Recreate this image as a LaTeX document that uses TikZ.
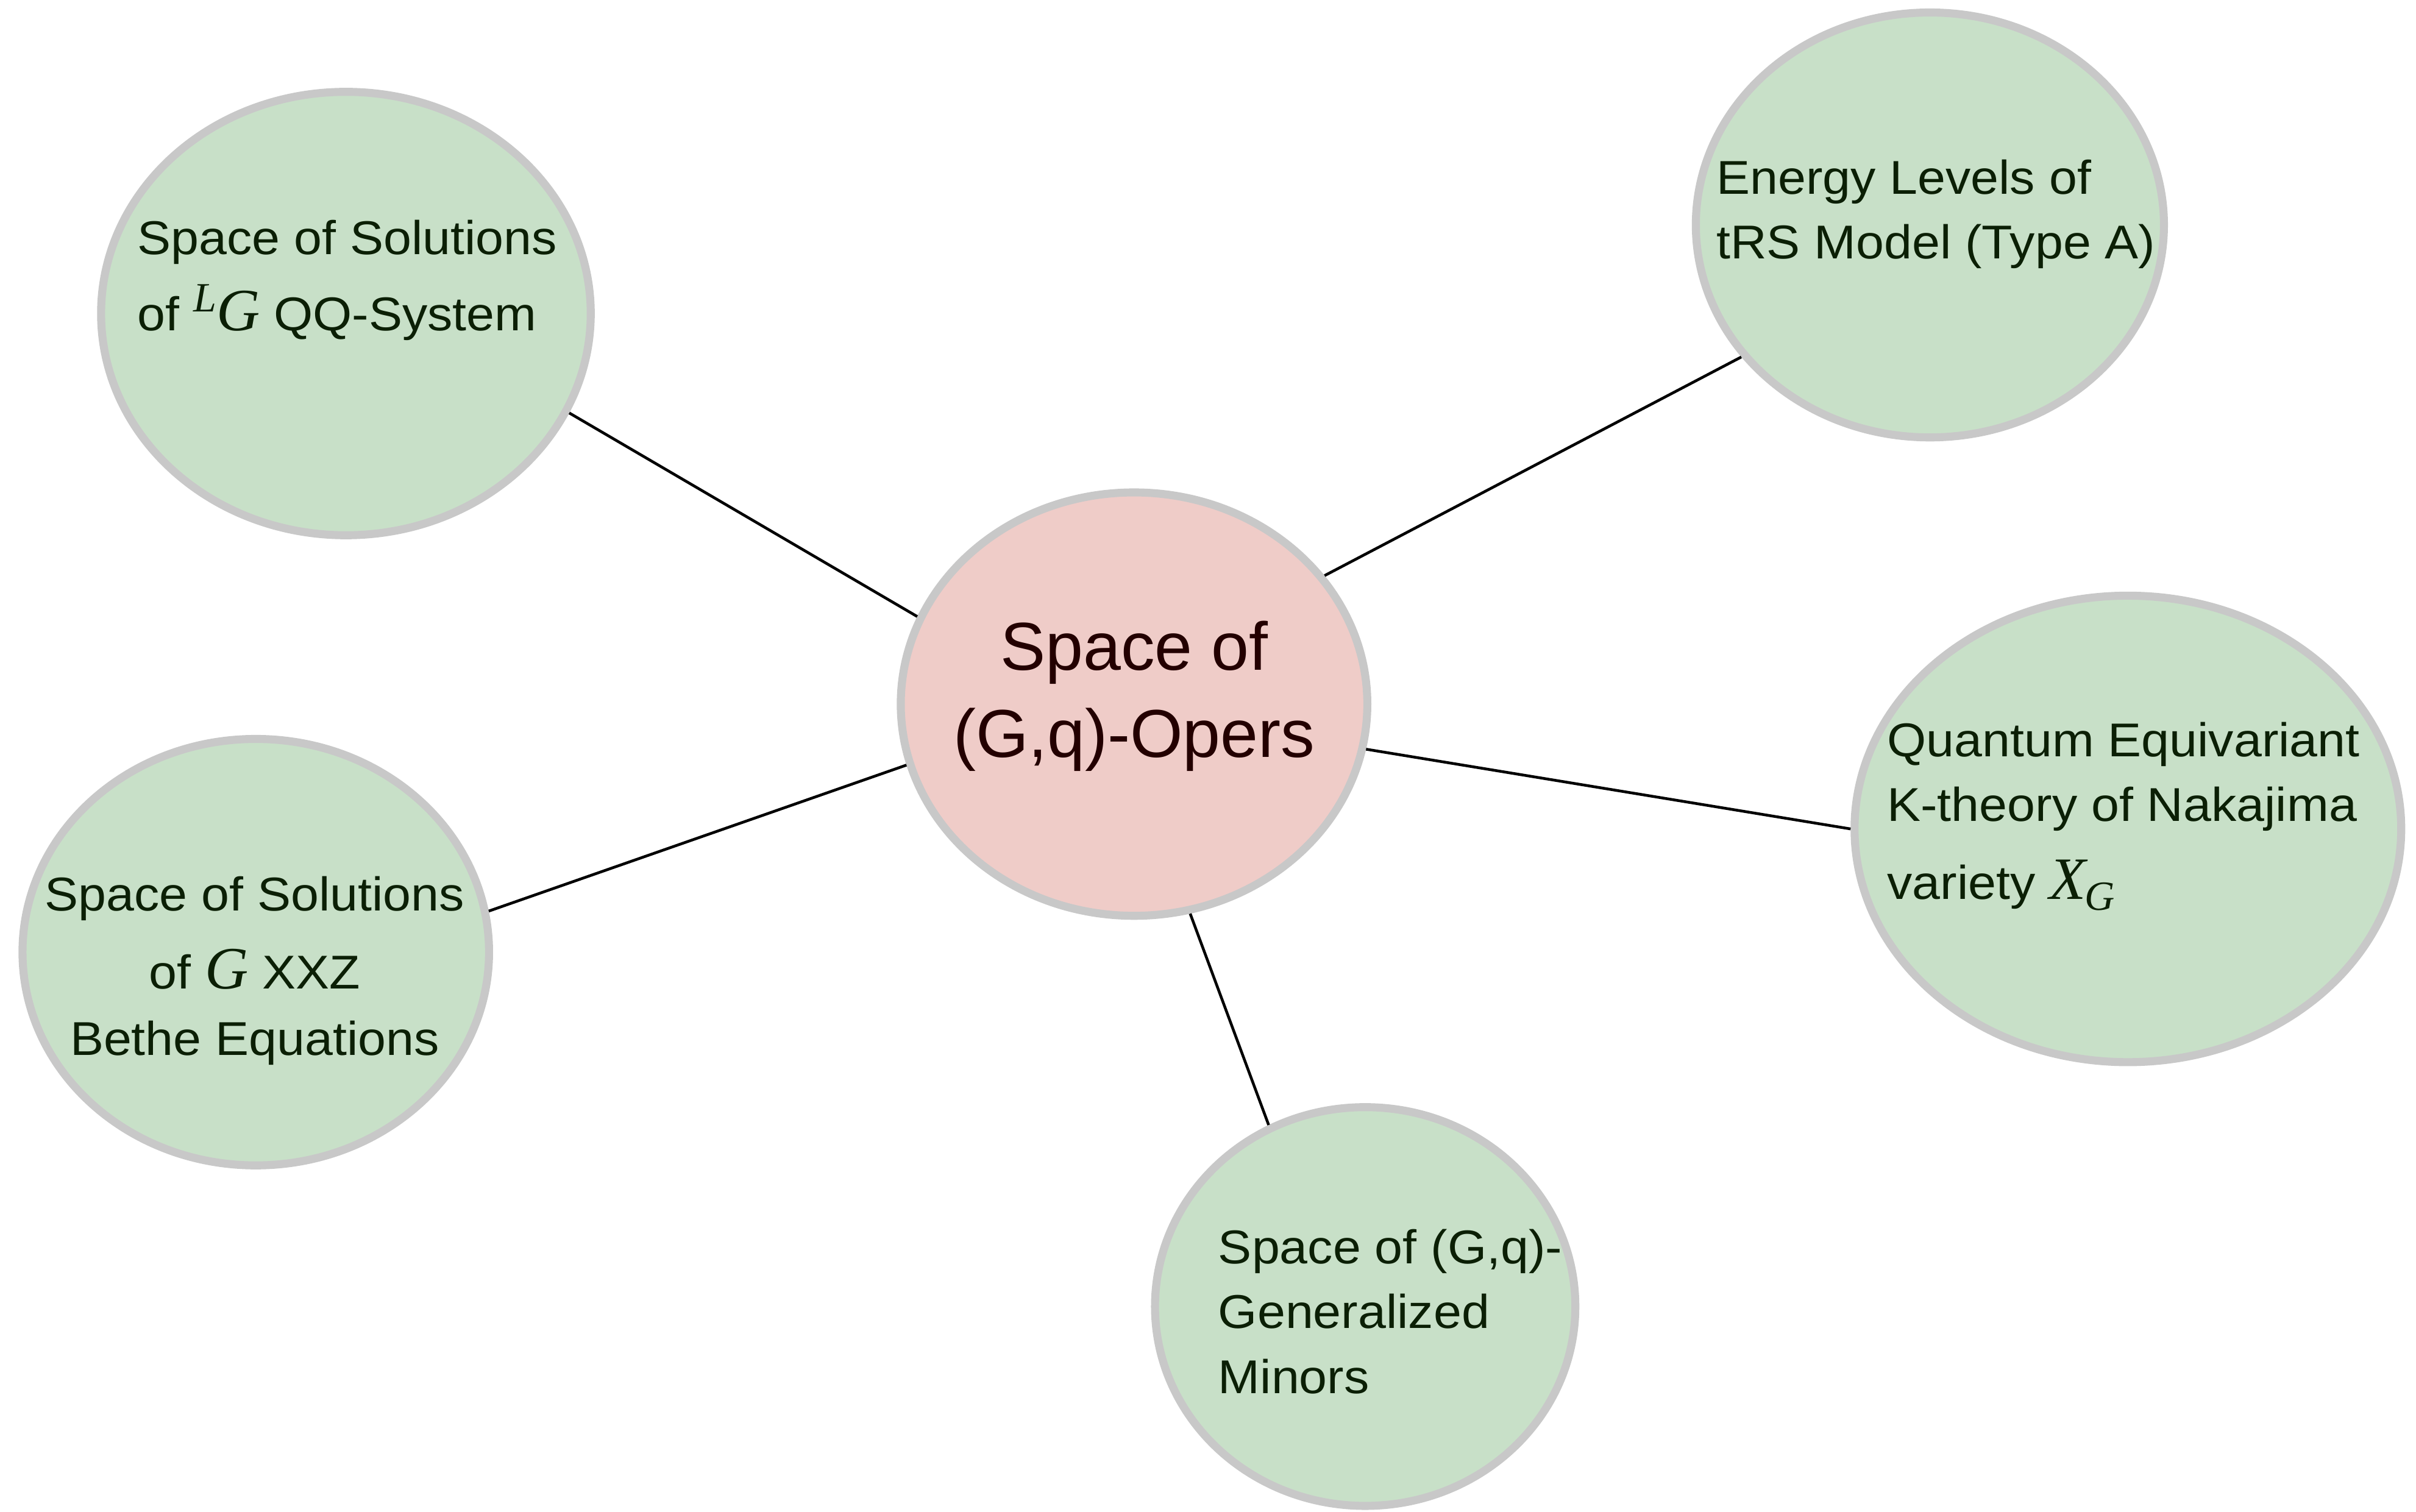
\documentclass[tikz,border=0pt]{standalone}
\usepackage{fontspec}
\setmainfont{Liberation Sans}
\newfontfamily\lblfont[FakeStretch=1.06]{Liberation Sans}
\newfontfamily\mfont{Liberation Serif}
\newcommand{\mbig}[1]{{\mfont\itshape\fontsize{19.5pt}{19.5pt}\selectfont #1}}
\newcommand{\msmall}[1]{{\mfont\itshape\fontsize{13.5pt}{13.5pt}\selectfont #1}}
\definecolor{ellgreen}{HTML}{C8E0C8}
\definecolor{ellpink}{HTML}{EFCCC8}
\definecolor{ellgray}{HTML}{C8C8C8}
\definecolor{txtgreen}{HTML}{0B1F05}
\definecolor{txtred}{HTML}{230000}
\usetikzlibrary{shapes.geometric}
\tikzset{
  bubble/.style={ellipse, draw=ellgray, line width=2.6pt, inner sep=0pt},
  gbubble/.style={bubble, fill=ellgreen},
  pbubble/.style={bubble, fill=ellpink},
  lbl/.style={inner sep=0pt, text=txtgreen, font=\lblfont\fontsize{15.4pt}{18pt}\selectfont},
  lblw/.style={lbl, anchor=base west},
  lblc/.style={lbl, anchor=base},
  clbl/.style={inner sep=0pt, anchor=base, text=txtred, font=\fontsize{22pt}{26pt}\selectfont},
  link/.style={black, line width=0.9pt}
}
\begin{document}
\begin{tikzpicture}[x=0.5pt,y=-0.5pt]
\useasboundingbox (0,0) rectangle (1568,981);
% bubbles
\node[pbubble, minimum width=151.4pt, minimum height=137.4pt] (c) at (736,457) {};
\node[gbubble, minimum width=158.9pt, minimum height=143.9pt] (tl) at (224.5,203.5) {};
\node[gbubble, minimum width=151.9pt, minimum height=137.9pt] (tr) at (1252.5,146) {};
\node[gbubble, minimum width=151.4pt, minimum height=138.4pt] (l) at (166,618) {};
\node[gbubble, minimum width=177.4pt, minimum height=151.4pt] (r) at (1381,538) {};
\node[gbubble, minimum width=136.4pt, minimum height=129.4pt] (b) at (886,848) {};
% connectors
\draw[link] (tl.-24.3) -- (c.158);
\draw[link] (tr.-145) -- (c.34.3);
\draw[link] (l.10.1) -- (c.195.8);
\draw[link] (r.180.5) -- (c.-11.5);
\draw[link] (b.118.7) -- (c.-75.9);
% texts
\node[clbl] (c1) at (736,434.8) {Space of};
\node[clbl] (c2) at (736,491.6) {(G,q)-Opers};
\node[lblw] (tl1) at (88.8,165.3) {Space of Solutions};
\node[lblw] (tl2) at (88.8,214.6) {of \raisebox{6.2pt}{\msmall{L}}\mbig{G} QQ-System};
\node[lblw] (tr1) at (1113.6,126.1) {Energy Levels of};
\node[lblw] (tr2) at (1113.6,168.1) {tRS Model (Type A)};
\node[lblc] (l1) at (165.3,591) {Space of Solutions};
\node[lblc] (l2) at (165.3,641.6) {of \mbig{G} XXZ};
\node[lblc] (l3) at (165.3,684.9) {Bethe Equations};
\node[lblw] (r1) at (1224.4,491.2) {Quantum Equivariant};
\node[lblw] (r2) at (1224.4,533) {K-theory of Nakajima};
\node[lblw] (r3) at (1224.4,583.7) {variety \mbig{X}\kern-0.5pt\raisebox{-3.5pt}{\msmall{G}}};
\node[lblw] (b1) at (790.3,820.3) {Space of (G,q)-};
\node[lblw] (b2) at (790.3,862.2) {Generalized};
\node[lblw] (b3) at (790.3,904.5) {Minors};
\end{tikzpicture}
\end{document}
